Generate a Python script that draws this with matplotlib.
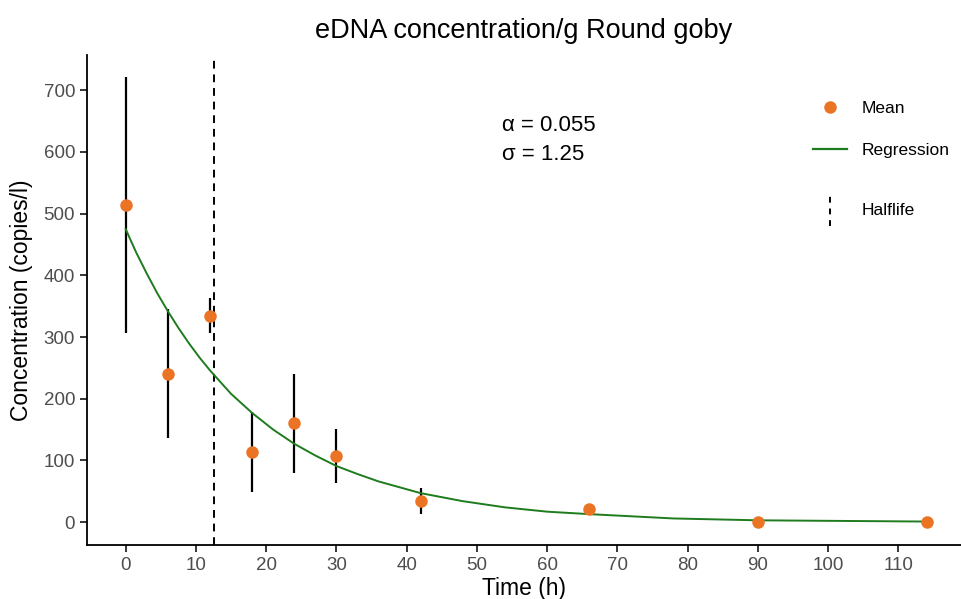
import matplotlib
matplotlib.use("Agg")
import matplotlib.pyplot as plt
from matplotlib.lines import Line2D
from matplotlib.legend_handler import HandlerBase

plt.rcParams['font.family'] = ['Liberation Sans', 'DejaVu Sans']

# ---- data ----
time_h = [0, 6, 12, 18, 24, 30, 42, 66, 90, 114]
mean_conc = [514, 240, 334, 113, 160, 107, 34, 21, 0, 0]
err_low = [307, 136, 306, 49, 79, 63, 14, 21, 0, 0]
err_high = [722, 345, 363, 178, 240, 151, 55, 21, 0, 0]

reg_time = [0, 1.5, 3, 4.5, 6, 7.5, 9, 10.5, 12, 15, 18, 21, 24, 27, 30, 33, 36, 42, 48, 54, 60, 66, 78, 90, 102, 114]
reg_conc = [475, 437, 403, 371, 342, 315, 290, 267, 246, 208, 177, 150, 127, 108, 91, 78, 66, 47, 34, 24, 17, 13, 6, 3, 2, 1]

halflife = 12.6
alpha_txt = "α = 0.055"
sigma_txt = "σ = 1.25"

orange = '#EB7424'
green = '#1E7B1E'

fig = plt.figure(figsize=(9.61, 5.99), dpi=100)
ax = fig.add_axes([87/961, 1-545/599, 1-87/961, (545-55)/599])

# error bars
ax.vlines(time_h, err_low, err_high, color='black', lw=1.6, zorder=2)
# regression
ax.plot(reg_time, reg_conc, color=green, lw=1.4, zorder=3)
# halflife
ax.axvline(halflife, color='black', lw=1.4, ls=(0, (4, 3)), zorder=2)
# means
ax.plot(time_h, mean_conc, 'o', color=orange, ms=9, zorder=4, mec='none')

ax.set_xlim(-5.5, 118.9)
ax.set_ylim(-37, 757)
ax.set_xticks(range(0, 111, 10))
ax.set_yticks(range(0, 701, 100))

for s in ['top', 'right']:
    ax.spines[s].set_visible(False)
for s in ['left', 'bottom']:
    ax.spines[s].set_linewidth(1.3)
ax.tick_params(axis='both', labelsize=13.5, colors='#4D4D4D', width=1.1, length=5)
ax.tick_params(axis='both', color='black')

ax.set_xlabel("Time (h)", fontsize=16.5, labelpad=2)
ax.set_ylabel("Concentration (copies/l)", fontsize=16.5, labelpad=8)
ax.set_title("eDNA concentration/g Round goby", fontsize=19.5, pad=12)

ax.text(53.5, 643, alpha_txt, fontsize=16, va='center', ha='left')
ax.text(53.5, 595, sigma_txt, fontsize=16, va='center', ha='left')


class VDashHandler(HandlerBase):
    def create_artists(self, legend, orig_handle, xdescent, ydescent,
                       width, height, fontsize, trans):
        cx = width / 2 - xdescent
        l = Line2D([cx, cx], [-ydescent - 0.55 * height, height * 1.55 - ydescent],
                   color='black', lw=1.4, ls=(0, (3, 3)))
        l.set_transform(trans)
        return [l]


def ax_frac(px, py):
    return ((px - 87) / (961 - 87), 1 - (py - 55) / (545 - 55))


h_mean = Line2D([], [], marker='o', ls='', color=orange, ms=9, mec='none')
h_reg = Line2D([], [], color=green, lw=1.6)
leg1 = ax.legend([h_mean, h_reg], ["Mean", "Regression"],
                 loc='upper left', bbox_to_anchor=ax_frac(804, 91),
                 frameon=False, fontsize=12.5, handlelength=2.0, handleheight=1.0,
                 labelspacing=1.46, handletextpad=0.8, borderpad=0)
ax.add_artist(leg1)

h_half = object()
leg2 = ax.legend([h_half], ["Halflife"],
                 handler_map={object: VDashHandler()},
                 loc='upper left', bbox_to_anchor=ax_frac(804, 193),
                 frameon=False, fontsize=12.5, handlelength=2.0, handleheight=1.0,
                 handletextpad=0.8, borderpad=0)

fig.savefig("out.png", dpi=100)
